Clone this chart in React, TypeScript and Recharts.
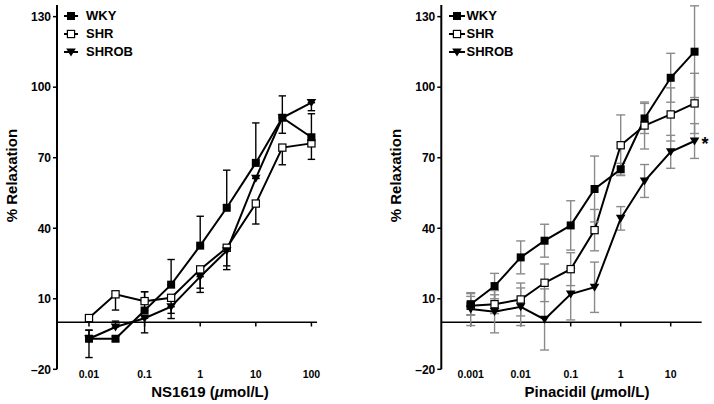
import React from "react";
import { LineChart, Line, XAxis, YAxis, ErrorBar, ReferenceLine, Legend } from "recharts";

const FONT = '"Liberation Sans", Arial, Helvetica, sans-serif';

// NS1619 panel (left)
const nsDoses = [0.01, 0.03, 0.1, 0.3, 1, 3, 10, 30, 100];
const nsWky = [-7, -7, 5, 16, 32.6, 48.7, 67.8, 87, 78.7];
const nsWkyErr = [[8, 3.6], [1, 1], [0, 8], [0, 10.7], [0, 12.5], [0, 16], [0, 17], [6.6, 9.3], [0, 10]];
const nsShr = [1.8, 11.9, 9, 10.4, 22.5, 31.7, 50.5, 74.3, 76.1];
const nsShrErr = [[0, 0], [6.7, 0], [0, 4], [6.6, 0], [8, 0], [7.7, 0], [8.7, 0], [7.3, 0], [6.8, 0]];
const nsShrob = [-7, -2, 1.7, 6.6, 19.4, 30.4, 61.2, 87, 93.4];
const nsShrobErr = [[0, 3.7], [0, 2.5], [6.2, 0], [5, 0], [6.7, 0], [8, 0], [0, 0], [0, 0], [3.4, 0]];
const nsTicks = [0.01, 0.1, 1, 10, 100];

// Pinacidil panel (right)
const pinDoses = [0.001, 0.003, 0.01, 0.03, 0.1, 0.3, 1, 3, 10, 30];
const pinWky = [7.7, 15.4, 27.6, 34.7, 41.2, 56.7, 65.1, 86.7, 104, 115.1];
const pinWkyErr = [4.5, 5.4, 7, 7, 10.5, 14, 2.5, 6.4, 10.4, 19.5];
const pinShr = [7, 7.7, 9.7, 16.8, 22.6, 39.2, 75.3, 83.7, 88.4, 93.1];
const pinShrErr = [4, 4, 7, 8, 7, 8.8, 12.9, 10, 11.3, 12.8];
const pinShrob = [5.6, 4.5, 6.6, 1.2, 12, 14.9, 44.2, 60.1, 72.5, 77.1];
const pinShrobErr = [7, 9, 8, 13, 11, 10.7, 5, 7, 7, 7.4];
const pinTicks = [0.001, 0.01, 0.1, 1, 10];

const yTicks = [-20, 10, 40, 70, 100, 130];
const groups = ["WKY", "SHR", "SHROB"];

const nsData = nsDoses.map((dose, i) => ({
  dose,
  WKY: nsWky[i], WKYErr: nsWkyErr[i],
  SHR: nsShr[i], SHRErr: nsShrErr[i],
  SHROB: nsShrob[i], SHROBErr: nsShrobErr[i],
}));

const pinData = pinDoses.map((dose, i) => ({
  dose,
  WKY: pinWky[i], WKYErr: pinWkyErr[i],
  SHR: pinShr[i], SHRErr: pinShrErr[i],
  SHROB: pinShrob[i], SHROBErr: pinShrobErr[i],
}));

function Marker({ cx, cy, kind }: { cx: number; cy: number; kind: string }) {
  if (kind === "WKY") return <rect x={cx - 4} y={cy - 4} width={8} height={8} fill="#000" />;
  if (kind === "SHR")
    return <rect x={cx - 3.6} y={cy - 3.6} width={7.2} height={7.2} fill="#fff" stroke="#000" strokeWidth={1.2} />;
  return <path d={`M${cx - 4.8},${cy - 3.6} L${cx + 4.8},${cy - 3.6} L${cx},${cy + 4.4} Z`} fill="#000" />;
}

function LegendBox({ iconW, gap }: { iconW: number; gap: number }) {
  return (
    <div style={{ fontFamily: FONT, fontWeight: 700, fontSize: 13, color: "#000" }}>
      {groups.map((g) => (
        <div key={g} style={{ display: "flex", alignItems: "center", height: 17.8 }}>
          <svg width={iconW} height={12} style={{ display: "block" }}>
            <line x1={0} y1={6} x2={iconW} y2={6} stroke="#000" strokeWidth={2} />
            <Marker cx={iconW / 2} cy={6} kind={g} />
          </svg>
          <span style={{ marginLeft: gap, lineHeight: "12px" }}>{g}</span>
        </div>
      ))}
    </div>
  );
}

interface PanelProps {
  data: any[];
  xDomain: [number, number];
  xTicks: number[];
  drug: string;
  margin: { top: number; right: number; bottom: number; left: number };
  titleShift: number;
  legendLeft: number;
  iconW: number;
  gap: number;
  errColor: string;
  errWidth: number;
  star?: boolean;
}

function Panel(props: PanelProps) {
  const { data, xDomain, xTicks, drug, margin, titleShift, legendLeft, iconW, gap, errColor, errWidth, star } = props;
  const last = data.length - 1;
  const order = ["SHR", "SHROB", "WKY"];

  return (
    <LineChart width={357} height={404} data={data} margin={margin}>
      <XAxis
        dataKey="dose"
        type="number"
        scale="log"
        domain={xDomain}
        allowDataOverflow
        ticks={xTicks}
        interval={0}
        axisLine={false}
        tickLine={false}
        tickSize={0}
        tickMargin={1}
        height={34.7}
        tickFormatter={(v: number) => String(v)}
        tick={{ fontSize: 10.5, fontWeight: 700, fill: "#000", fontFamily: FONT }}
        label={(p: any) => {
          const vb = p.viewBox;
          return (
            <text
              x={vb.x + vb.width / 2 + titleShift}
              y={vb.y + 27.7}
              textAnchor="middle"
              fontFamily={FONT}
              fontWeight={700}
              fontSize={15}
              fill="#000"
            >
              {drug} (<tspan fontStyle="italic">μ</tspan>mol/L)
            </text>
          );
        }}
      />
      <YAxis
        type="number"
        domain={[-20, 135]}
        allowDataOverflow
        ticks={yTicks}
        interval={0}
        width={57}
        tickSize={4}
        tickMargin={2}
        axisLine={{ stroke: "#000", strokeWidth: 2 }}
        tickLine={{ stroke: "#000", strokeWidth: 1.5 }}
        tickFormatter={(v: number) => (v < 0 ? `\u2013${-v}` : `${v}`)}
        tick={{ fontSize: 12, fontWeight: 700, fill: "#000", fontFamily: FONT }}
        label={(p: any) => {
          const vb = p.viewBox;
          const x = vb.x + 17;
          const y = vb.y + vb.height / 2 - 11.5;
          return (
            <text
              x={x}
              y={y}
              transform={`rotate(-90, ${x}, ${y})`}
              textAnchor="middle"
              fontFamily={FONT}
              fontWeight={700}
              fontSize={15}
              fill="#000"
            >
              % Relaxation
            </text>
          );
        }}
      />
      <ReferenceLine y={0} stroke="#000" strokeWidth={1.5} />
      {xTicks.map((t) => (
        <ReferenceLine
          key={`tick-${t}`}
          segment={[{ x: t, y: 0 }, { x: t, y: -1.8 }]}
          stroke="#000"
          strokeWidth={1.5}
        />
      ))}
      <Legend
        layout="horizontal"
        verticalAlign="middle"
        align="center"
        wrapperStyle={{ top: 7.3, left: legendLeft, width: "auto", height: "auto" }}
        content={() => <LegendBox iconW={iconW} gap={gap} />}
      />
      {order.map((g) => (
        <Line
          key={g}
          dataKey={g}
          type="linear"
          stroke="#000"
          strokeWidth={2}
          isAnimationActive={false}
          dot={(p: any) => <Marker key={`${g}-${p.index}`} cx={p.cx} cy={p.cy} kind={g} />}
          activeDot={false}
          label={
            star && g === "SHROB"
              ? (p: any) =>
                  p.index === last ? (
                    <text key="star" x={p.x + 7} y={p.y + 9} fontSize={18} fontWeight={700} fontFamily={FONT} fill="#000">
                      *
                    </text>
                  ) : (
                    <g key={`nl-${p.index}`} />
                  )
              : undefined
          }
        >
          <ErrorBar
            dataKey={`${g}Err`}
            direction="y"
            width={errWidth}
            stroke={errColor}
            strokeWidth={1.4}
            isAnimationActive={false}
          />
        </Line>
      ))}
    </LineChart>
  );
}

export default function App() {
  return (
    <div
      style={{
        position: "absolute",
        left: 0,
        top: 0,
        width: 714,
        height: 404,
        display: "flex",
        background: "#fff",
      }}
    >
      <Panel
        data={nsData}
        xDomain={[0.00266, 126]}
        xTicks={nsTicks}
        drug="NS1619"
        margin={{ top: 4.9, right: 40, bottom: 0, left: 0 }}
        titleShift={23}
        legendLeft={64}
        iconW={14}
        gap={8}
        errColor="#000"
        errWidth={3.7}
      />
      <Panel
        data={pinData}
        xDomain={[0.000258, 41.7]}
        xTicks={pinTicks}
        drug="Pinacidil"
        margin={{ top: 4.9, right: 12.3, bottom: 0, left: 27.3 }}
        titleShift={15.5}
        legendLeft={92}
        iconW={16}
        gap={1.5}
        errColor="#8a8a8a"
        errWidth={4.5}
        star
      />
    </div>
  );
}
